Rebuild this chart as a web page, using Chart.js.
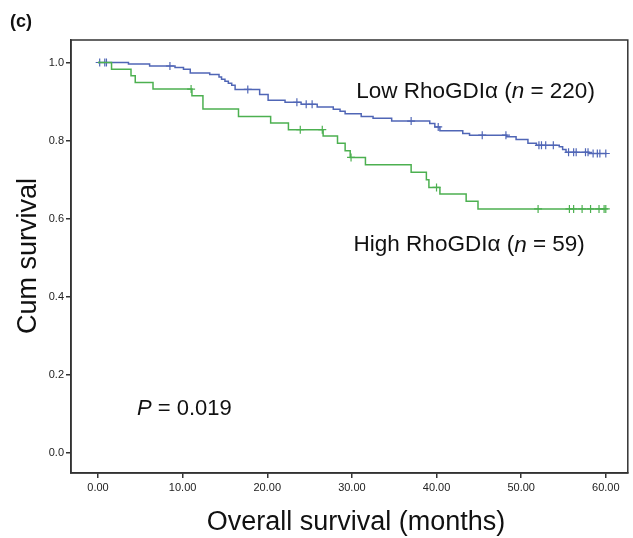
<!DOCTYPE html>
<html>
<head>
<meta charset="utf-8">
<script src="https://cdn.jsdelivr.net/npm/chart.js@4.4.1/dist/chart.umd.min.js"></script>
<style>
  body { margin: 0; background: #fff; }
</style>
</head>
<body>
<canvas id="km" width="633" height="538"></canvas>
<script>
// axis ticks
const xTicks = [0, 10, 20, 30, 40, 50, 60];
const xTickLabels = ['0.00', '10.00', '20.00', '30.00', '40.00', '50.00', '60.00'];
const yTicks = [0, 0.2, 0.4, 0.6, 0.8, 1.0];
const yTickLabels = ['0.0', '0.2', '0.4', '0.6', '0.8', '1.0'];

// Low RhoGDIa (n = 220): step times (months) and survival after each step
const lowTimes = [0, 3.6, 6.1, 9.1, 10.1, 10.9, 13.2, 14.3, 14.6, 15.0, 15.4, 15.8, 16.2, 19.1, 20.1, 22.1,
  24.0, 25.9, 27.8, 28.6, 29.2, 31.1, 32.5, 34.7, 39.2, 39.8, 40.4, 43.1, 43.9, 48.3, 49.4, 50.8,
  51.8, 54.5, 54.9, 55.3, 58.0, 60.1];
const lowSurv = [1.0, 0.996, 0.991, 0.987, 0.983, 0.973, 0.969, 0.963, 0.957, 0.952, 0.947, 0.942, 0.931, 0.918, 0.903, 0.898,
  0.893, 0.886, 0.880, 0.875, 0.869, 0.862, 0.857, 0.850, 0.844, 0.835, 0.825, 0.818, 0.814, 0.810, 0.803, 0.793,
  0.788, 0.784, 0.777, 0.770, 0.767, 0.767];
const lowCensored = [0.2, 0.8, 1.0, 8.5, 17.7, 23.5, 24.6, 25.3, 37.0, 40.2, 45.4, 48.2, 52.1, 52.4, 52.9, 53.8,
  55.6, 56.2, 56.5, 57.6, 57.9, 58.5, 59.0, 59.3, 60.0];

// High RhoGDIa (n = 59)
const highTimes = [0, 1.6, 3.9, 4.4, 6.5, 11.1, 12.4, 16.6, 20.4, 22.5, 26.6, 28.3, 29.2, 29.8, 31.6, 37.0,
  38.8, 39.1, 40.4, 43.5, 44.9, 60.0];
const highSurv = [1.0, 0.983, 0.966, 0.949, 0.932, 0.915, 0.881, 0.862, 0.845, 0.828, 0.812, 0.793, 0.774, 0.757, 0.738, 0.719,
  0.700, 0.680, 0.663, 0.645, 0.625, 0.625];
const highCensored = [11.0, 23.9, 26.5, 29.9, 40.0, 52.0, 55.7, 56.2, 57.2, 58.2, 59.2, 59.8, 60.0];

const blue = '#5066b6';
const green = '#4cb050';
const font = "'Liberation Sans', Arial, sans-serif";

function survAt(times, surv, t) {
  let s = surv[0];
  for (let i = 0; i < times.length; i++) {
    if (times[i] <= t) s = surv[i];
  }
  return s;
}

function stepData(times, surv) {
  return times.map((t, i) => ({x: t, y: surv[i]}));
}

function censorData(times, surv, cens) {
  return cens.map(t => ({x: t, y: survAt(times, surv, t)}));
}

function drawParts(ctx, x, y, parts, size) {
  parts.forEach(p => {
    ctx.font = (p.italic ? 'italic ' : '') + size + 'px ' + font;
    ctx.fillText(p.text, x, y);
    x += ctx.measureText(p.text).width;
  });
}

const extras = {
  id: 'extras',
  afterDraw(chart) {
    const {ctx, chartArea: a, scales: {x, y}} = chart;
    ctx.save();
    ctx.strokeStyle = '#333';
    ctx.lineWidth = 1.5;
    ctx.strokeRect(a.left, a.top, a.right - a.left, a.bottom - a.top);

    ctx.fillStyle = '#111';
    ctx.textBaseline = 'middle';
    ctx.textAlign = 'left';
    drawParts(ctx, x.getPixelForValue(30.5), y.getPixelForValue(0.924),
      [{text: 'Low RhoGDI\u03b1 ('}, {text: 'n', italic: true}, {text: ' = 220)'}], 22.5);
    drawParts(ctx, x.getPixelForValue(30.2), y.getPixelForValue(0.532),
      [{text: 'High RhoGDI\u03b1 ('}, {text: 'n', italic: true}, {text: ' = 59)'}], 22.5);
    drawParts(ctx, x.getPixelForValue(4.6), y.getPixelForValue(0.113),
      [{text: 'P', italic: true}, {text: ' = 0.019'}], 22);

    ctx.font = 'bold 18px ' + font;
    ctx.fillText('(c)', 10, 22);

    ctx.textAlign = 'center';
    ctx.font = '27px ' + font;
    ctx.fillText('Overall survival (months)', 356, 523);
    ctx.translate(29, 256);
    ctx.rotate(-Math.PI / 2);
    ctx.fillText('Cum survival', 0, 0);
    ctx.restore();
  }
};

new Chart(document.getElementById('km'), {
  type: 'line',
  data: {
    datasets: [
      {
        data: stepData(highTimes, highSurv),
        stepped: 'before',
        borderColor: green,
        borderWidth: 1.5,
        pointRadius: 0,
        fill: false
      },
      {
        data: stepData(lowTimes, lowSurv),
        stepped: 'before',
        borderColor: blue,
        borderWidth: 1.5,
        pointRadius: 0,
        fill: false
      },
      {
        type: 'scatter',
        data: censorData(highTimes, highSurv, highCensored),
        pointStyle: 'cross',
        pointRadius: 4,
        borderColor: green,
        borderWidth: 1.2,
        showLine: false
      },
      {
        type: 'scatter',
        data: censorData(lowTimes, lowSurv, lowCensored),
        pointStyle: 'cross',
        pointRadius: 4,
        borderColor: blue,
        borderWidth: 1.2,
        showLine: false
      }
    ]
  },
  options: {
    responsive: false,
    animation: false,
    layout: {padding: {top: 40, right: 5, left: 0, bottom: 0}},
    plugins: {legend: {display: false}, tooltip: {enabled: false}},
    scales: {
      x: {
        type: 'linear',
        min: -3.19,
        max: 62.6,
        afterBuildTicks: s => { s.ticks = xTicks.map(v => ({value: v})); },
        afterFit: s => { s.height = 65; },
        ticks: {
          callback: (v) => xTickLabels[xTicks.indexOf(v)],
          color: '#222',
          font: {family: font, size: 11},
          padding: 3,
          maxRotation: 0
        },
        grid: {drawOnChartArea: false, drawTicks: true, tickLength: 5, color: '#333', lineWidth: 1.5},
        border: {display: true, color: '#333', width: 1.5}
      },
      y: {
        type: 'linear',
        min: -0.0512,
        max: 1.0576,
        afterBuildTicks: s => { s.ticks = yTicks.map(v => ({value: v})); },
        afterFit: s => { s.width = 71; },
        ticks: {
          callback: (v) => yTickLabels[yTicks.findIndex(t => Math.abs(t - v) < 1e-6)],
          color: '#222',
          font: {family: font, size: 11},
          padding: 2
        },
        grid: {drawOnChartArea: false, drawTicks: true, tickLength: 5, color: '#333', lineWidth: 1.5},
        border: {display: true, color: '#333', width: 1.5}
      }
    }
  },
  plugins: [extras]
});
</script>
</body>
</html>
